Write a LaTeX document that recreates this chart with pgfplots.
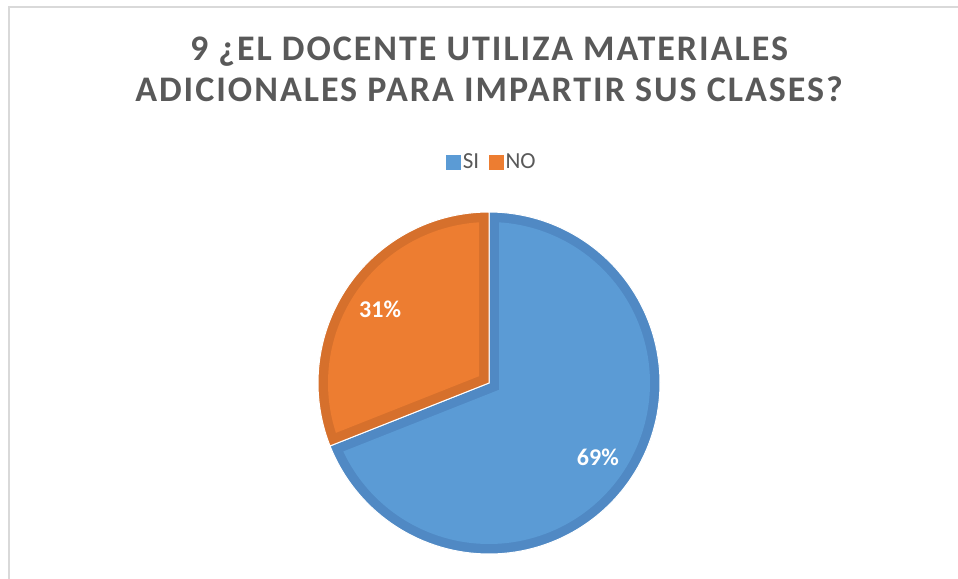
\documentclass[border=0pt]{standalone}
\usepackage{pgfplots}
\pgfplotsset{compat=1.18}
\usepackage{pgfplotstable}
\usepackage{fontspec}
\setmainfont{Carlito}
\newfontfamily\titlefont[LetterSpace=5.5]{Carlito}

\definecolor{siblue}{HTML}{5B9BD5}
\definecolor{siblueD}{HTML}{5089C4}
\definecolor{noorange}{HTML}{ED7D31}
\definecolor{noorangeD}{HTML}{D6702C}
\definecolor{txtgray}{HTML}{595959}
\definecolor{framegray}{HTML}{D9D9D9}

\pgfplotstableread{
label value
SI 69
NO 31
}\piedata

\begin{document}
\begin{tikzpicture}
\pgfplotstablegetelem{0}{value}\of\piedata \let\vSI\pgfplotsretval
\pgfplotstablegetelem{1}{value}\of\piedata \let\vNO\pgfplotsretval
% pie geometry, in pixels of the 958x579 picture
\def\cx{489}\def\cy{383}\def\R{171}\def\bw{10}
\pgfmathsetmacro\Ri{\R-\bw}
\pgfmathsetmacro\dl{asin(\bw/\Ri)}
% NO slice: from 90 deg counter-clockwise
\pgfmathsetmacro\noA{90}
\pgfmathsetmacro\noB{90+360*\vNO/(\vSI+\vNO)}
% SI slice: the rest
\pgfmathsetmacro\siA{\noB}
\pgfmathsetmacro\siB{450}
% inner (light) parts
\pgfmathsetmacro\noAi{\noA+\dl}\pgfmathsetmacro\noBi{\noB-\dl}
\pgfmathsetmacro\siAi{\siA+\dl}\pgfmathsetmacro\siBi{\siB-\dl}
\pgfmathsetmacro\noM{(\noA+\noB)/2}\pgfmathsetmacro\siM{(\siA+\siB)/2}
\pgfmathsetmacro\noV{\bw/sin((\noB-\noA)/2)}
\pgfmathsetmacro\siV{\bw/sin((\siB-\siA)/2)}
\pgfmathsetmacro\noVx{\cx+\noV*cos(\noM)}\pgfmathsetmacro\noVy{\cy-\noV*sin(\noM)}
\pgfmathsetmacro\siVx{\cx+\siV*cos(\siM)}\pgfmathsetmacro\siVy{\cy-\siV*sin(\siM)}
% label positions
\pgfmathsetmacro\noLx{\cx+0.77*\R*cos(\noM)}\pgfmathsetmacro\noLy{\cy-0.77*\R*sin(\noM)}
\pgfmathsetmacro\siLx{\cx+0.77*\R*cos(\siM)}\pgfmathsetmacro\siLy{\cy-0.77*\R*sin(\siM)}

\begin{axis}[
  at={(0,0)}, anchor=south west,
  scale only axis, width=958bp, height=579bp,
  xmin=0, xmax=958, ymin=0, ymax=579, y dir=reverse,
  hide axis, clip=false,
  legend columns=2,
  legend image code/.code={\fill[#1] (-4bp,-7bp) rectangle (10bp,7bp);},
  legend style={draw=none, fill=none, at={(0.5136,0.720)}, anchor=center,
    font=\fontsize{23bp}{27bp}\selectfont,
    /tikz/every even column/.append style={column sep=8bp}},
]
\addlegendimage{siblue}
\addlegendentry{\textcolor{txtgray}{SI}}
\addlegendimage{noorange}
\addlegendentry{\textcolor{txtgray}{NO}}

% SI slice
\addplot[forget plot, fill=siblueD, draw=white, line width=1bp, domain=\siA:\siB, samples=120, variable=\t]
  ({\cx+\R*cos(\t)},{\cy-\R*sin(\t)}) -- (axis cs:\cx,\cy) -- cycle;
\addplot[forget plot, fill=siblue, draw=none, domain=\siAi:\siBi, samples=120, variable=\t]
  ({\cx+\Ri*cos(\t)},{\cy-\Ri*sin(\t)}) -- (axis cs:\siVx,\siVy) -- cycle;
% NO slice
\addplot[forget plot, fill=noorangeD, draw=white, line width=1bp, domain=\noA:\noB, samples=80, variable=\t]
  ({\cx+\R*cos(\t)},{\cy-\R*sin(\t)}) -- (axis cs:\cx,\cy) -- cycle;
\addplot[forget plot, fill=noorange, draw=none, domain=\noAi:\noBi, samples=80, variable=\t]
  ({\cx+\Ri*cos(\t)},{\cy-\Ri*sin(\t)}) -- (axis cs:\noVx,\noVy) -- cycle;

% data labels
\node[text=white, font=\bfseries\fontsize{24bp}{28bp}\selectfont] at (axis cs:\noLx,\noLy) {\vNO\%};
\node[text=white, font=\bfseries\fontsize{24bp}{28bp}\selectfont] at (axis cs:\siLx,\siLy) {\vSI\%};

% title
\node[anchor=base, text=txtgray, font=\titlefont\bfseries\fontsize{36bp}{40bp}\selectfont] at (axis cs:489,61) {9 ¿EL DOCENTE UTILIZA MATERIALES};
\node[anchor=base, text=txtgray, font=\titlefont\bfseries\fontsize{36bp}{40bp}\selectfont] at (axis cs:489,101.5) {ADICIONALES PARA IMPARTIR SUS CLASES?};

% chart frame
\draw[framegray, line width=1.5bp] (axis cs:9,579) -- (axis cs:9,7) -- (axis cs:958,7);
\end{axis}
\pgfresetboundingbox
\path (0,0) rectangle (958bp,579bp);
\end{tikzpicture}
\end{document}
